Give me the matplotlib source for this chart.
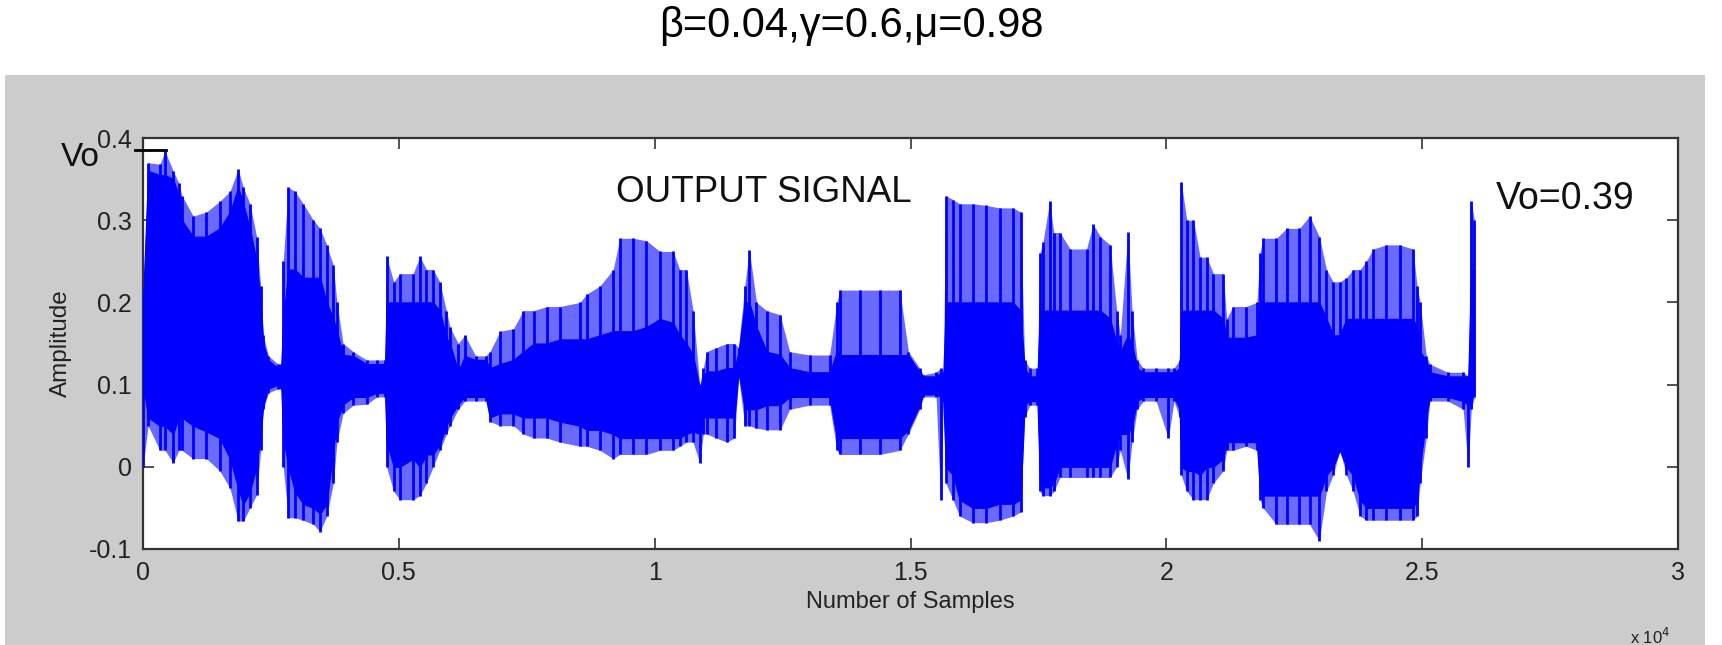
import matplotlib
matplotlib.use("Agg")
import matplotlib.pyplot as plt
from matplotlib.patches import Rectangle

plt.rcParams['font.family'] = ['Liberation Sans', 'DejaVu Sans']

# ---- data (sample index, amplitude) ----
knot_samples = [0, 100, 330, 430, 590, 700, 760, 980, 1240, 1500, 1700, 1860, 1960, 2090, 2220, 2300, 2350,
                2450, 2640, 2700, 2740, 2840, 2970, 3130, 3330, 3460, 3590, 3720, 3790, 3910,
                4110, 4370, 4570, 4730, 4760, 4900, 5022, 5280, 5410, 5540, 5670, 5800, 5930, 6000, 6160,
                6290, 6500, 6700, 6780, 6980, 7240, 7430, 7640, 7890, 8150, 8540, 8670, 8930, 9190, 9320, 9580, 9840,
                10103, 10360, 10490, 10620, 10750, 10880, 10950, 11015, 11200, 11410, 11560, 11640, 11760, 11850, 11990,
                12190, 12450, 12640, 13030, 13420, 13560, 13620, 14010, 14400, 14790, 14960, 15180,
                15250, 15500, 15590, 15640, 15690, 15830, 15960, 16220, 16480, 16740, 17000, 17150, 17230,
                17330, 17480, 17530, 17590, 17720, 17800, 17920, 18120, 18440, 18570, 18710, 18900, 19030, 19100,
                19250, 19330, 19430, 19550, 19800, 20040, 20150, 20260, 20290, 20400, 20530, 20660, 20790, 20920,
                21110, 21180, 21300, 21560, 21770, 21830, 21890, 22150, 22350, 22600, 22800, 22990, 23130, 23260,
                23390, 23520, 23650, 23790, 23910, 24040, 24300, 24560, 24820, 24900, 24960, 25080,
                25150, 25500, 25800, 25900, 25960, 26020]

core_hi = [0.20, 0.36, 0.355, 0.355, 0.35, 0.33, 0.30, 0.28, 0.28, 0.29, 0.31, 0.34, 0.32, 0.29, 0.25, 0.20, 0.15,
           0.13, 0.12, 0.12, 0.18, 0.24, 0.24, 0.23, 0.23, 0.23, 0.20, 0.18, 0.165, 0.136,
           0.135, 0.125, 0.125, 0.125, 0.20, 0.20, 0.20, 0.20, 0.20, 0.20, 0.20, 0.19, 0.157, 0.15, 0.116,
           0.135, 0.13, 0.13, 0.12, 0.125, 0.13, 0.14, 0.15, 0.15, 0.155, 0.155, 0.155, 0.16, 0.165, 0.165, 0.165, 0.17,
           0.18, 0.175, 0.16, 0.15, 0.136, 0.096, 0.11, 0.116, 0.116, 0.12, 0.12, 0.14, 0.20, 0.20, 0.17,
           0.14, 0.136, 0.12, 0.115, 0.115, 0.14, 0.136, 0.136, 0.136, 0.136, 0.136, 0.115,
           0.11, 0.11, 0.115, 0.11, 0.20, 0.20, 0.20, 0.20, 0.20, 0.20, 0.20, 0.19, 0.12,
           0.11, 0.11, 0.19, 0.19, 0.19, 0.19, 0.19, 0.19, 0.19, 0.19, 0.19, 0.18, 0.15, 0.14,
           0.16, 0.15, 0.12, 0.115, 0.115, 0.115, 0.115, 0.12, 0.19, 0.19, 0.19, 0.19, 0.19, 0.19,
           0.18, 0.157, 0.157, 0.157, 0.16, 0.20, 0.20, 0.20, 0.20, 0.20, 0.20, 0.20, 0.18, 0.16,
           0.16, 0.18, 0.18, 0.18, 0.18, 0.18, 0.18, 0.18, 0.18, 0.17, 0.14, 0.13,
           0.115, 0.11, 0.11, 0.11, 0.24, 0.24]

core_lo = [0.10, 0.06, 0.05, 0.05, 0.04, 0.06, 0.06, 0.05, 0.043, 0.035, 0.01, -0.026, -0.046, -0.03, 0.0, 0.04, 0.075,
           0.095, 0.10, 0.10, 0.035, 0.0, -0.03, -0.045, -0.05, -0.057, -0.045, 0.02, 0.055, 0.076,
           0.085, 0.085, 0.09, 0.09, 0.03, 0.0, 0.0, 0.01, 0.0, 0.015, 0.015, 0.027, 0.05, 0.06, 0.076,
           0.085, 0.085, 0.085, 0.06, 0.065, 0.065, 0.06, 0.06, 0.06, 0.055, 0.05, 0.045, 0.045, 0.04, 0.035, 0.035, 0.035,
           0.035, 0.035, 0.035, 0.04, 0.043, 0.04, 0.06, 0.06, 0.06, 0.06, 0.06, 0.115, 0.07, 0.07, 0.07,
           0.075, 0.075, 0.085, 0.085, 0.085, 0.035, 0.035, 0.035, 0.035, 0.035, 0.045, 0.075,
           0.088, 0.088, 0.085, 0.085, 0.0, -0.01, -0.04, -0.05, -0.05, -0.045, -0.045, -0.04, 0.075,
           0.08, 0.08, -0.02, -0.025, -0.025, -0.02, 0.0, 0.0, 0.0, 0.0, 0.0, 0.0, 0.03, 0.04,
           0.04, 0.05, 0.08, 0.085, 0.085, 0.085, 0.085, 0.07, 0.0, -0.005, -0.005, -0.01, 0.0, 0.0,
           0.01, 0.03, 0.03, 0.03, 0.03, -0.03, -0.035, -0.035, -0.035, -0.035, -0.035, -0.035, -0.01, 0.0,
           0.02, 0.0, -0.01, -0.04, -0.05, -0.05, -0.05, -0.05, -0.05, -0.04, 0.0, 0.06,
           0.085, 0.085, 0.08, 0.075, 0.08, 0.09]

peak_hi = [0.21, 0.37, 0.368, 0.384, 0.36, 0.345, 0.33, 0.305, 0.31, 0.323, 0.335, 0.362, 0.34, 0.32, 0.28, 0.22, 0.16,
           0.135, 0.125, 0.125, 0.25, 0.34, 0.335, 0.32, 0.30, 0.29, 0.27, 0.245, 0.20, 0.15,
           0.14, 0.13, 0.13, 0.13, 0.256, 0.225, 0.235, 0.235, 0.256, 0.24, 0.24, 0.225, 0.19, 0.17, 0.15,
           0.16, 0.135, 0.135, 0.14, 0.165, 0.168, 0.19, 0.19, 0.195, 0.195, 0.20, 0.21, 0.22, 0.24, 0.278, 0.278, 0.275,
           0.262, 0.262, 0.24, 0.24, 0.19, 0.10, 0.12, 0.14, 0.145, 0.15, 0.15, 0.145, 0.22, 0.264, 0.20,
           0.19, 0.185, 0.14, 0.136, 0.136, 0.20, 0.215, 0.215, 0.215, 0.215, 0.14, 0.12,
           0.112, 0.115, 0.12, 0.115, 0.33, 0.325, 0.32, 0.32, 0.318, 0.315, 0.315, 0.31, 0.13,
           0.12, 0.12, 0.26, 0.274, 0.323, 0.285, 0.285, 0.265, 0.265, 0.295, 0.28, 0.27, 0.19, 0.16,
           0.286, 0.19, 0.13, 0.12, 0.12, 0.12, 0.12, 0.13, 0.347, 0.30, 0.30, 0.255, 0.255, 0.235,
           0.235, 0.18, 0.195, 0.195, 0.20, 0.26, 0.278, 0.278, 0.29, 0.29, 0.305, 0.28, 0.24, 0.225,
           0.225, 0.23, 0.24, 0.24, 0.25, 0.265, 0.27, 0.27, 0.265, 0.22, 0.20, 0.135,
           0.125, 0.115, 0.115, 0.11, 0.323, 0.30]

peak_lo = [0.0, 0.05, 0.02, 0.02, 0.005, 0.02, 0.02, 0.01, 0.01, -0.005, -0.026, -0.066, -0.066, -0.05, -0.034, 0.02, 0.07,
           0.09, 0.095, 0.095, 0.0, -0.062, -0.062, -0.065, -0.07, -0.079, -0.06, -0.02, 0.03, 0.065,
           0.075, 0.076, 0.085, 0.085, 0.0, -0.03, -0.04, -0.04, -0.035, -0.02, 0.0, 0.02, 0.04, 0.05, 0.07,
           0.08, 0.08, 0.08, 0.055, 0.05, 0.05, 0.04, 0.035, 0.035, 0.03, 0.025, 0.025, 0.02, 0.01, 0.015, 0.015, 0.015,
           0.02, 0.02, 0.025, 0.03, 0.03, 0.005, 0.04, 0.04, 0.035, 0.03, 0.035, 0.11, 0.05, 0.05, 0.047,
           0.045, 0.045, 0.07, 0.075, 0.075, 0.02, 0.015, 0.015, 0.015, 0.02, 0.04, 0.07,
           0.085, 0.085, -0.04, 0.08, -0.02, -0.04, -0.06, -0.068, -0.068, -0.065, -0.06, -0.055, 0.06,
           0.075, 0.075, -0.03, -0.035, -0.035, -0.03, -0.013, -0.013, -0.013, -0.013, -0.013, -0.013, 0.0, 0.02,
           -0.015, 0.03, 0.07, 0.08, 0.08, 0.035, 0.08, 0.06, -0.01, -0.03, -0.04, -0.04, -0.04, -0.02,
           -0.005, 0.02, 0.02, 0.025, 0.02, -0.04, -0.05, -0.07, -0.07, -0.07, -0.07, -0.09, -0.03, -0.01,
           0.02, -0.01, -0.03, -0.06, -0.065, -0.065, -0.065, -0.065, -0.065, -0.06, -0.02, 0.035,
           0.08, 0.08, 0.07, 0.0, 0.07, 0.085]

x_ticks = [0, 5000, 10000, 15000, 20000, 25000, 30000]
x_tick_labels = ['0', '0.5', '1', '1.5', '2', '2.5', '3']
y_ticks = [-0.1, 0.0, 0.1, 0.2, 0.3, 0.4]
y_tick_labels = ['-0.1', '0', '0.1', '0.2', '0.3', '0.4']
vo_level = 0.386

# ---- figure ----
W, H = 1722, 645
fig = plt.figure(figsize=(W / 100, H / 100), dpi=100, facecolor='white')
fig.patches.append(Rectangle((5 / W, 0.0), 1700 / W, (645 - 75) / H, transform=fig.transFigure,
                             facecolor='#cccccc', edgecolor='none', zorder=-10))

ax = fig.add_axes([143 / W, (645 - 549) / H, (1678 - 143) / W, (549 - 138) / H])
ax.set_facecolor('white')

blue = '#0000ff'
ax.fill_between(knot_samples, peak_lo, peak_hi, color='#6a6aff', linewidth=0, zorder=2)
ax.vlines(knot_samples, peak_lo, peak_hi, colors=blue, linewidth=2.0, zorder=3)
ax.fill_between(knot_samples, core_lo, core_hi, color=blue, linewidth=0.8, edgecolor=blue, zorder=4)

ax.plot([-160, 450], [vo_level, vo_level], color='black', linewidth=2, clip_on=False, zorder=6)

ax.set_xlim(0, 30000)
ax.set_ylim(-0.1, 0.4)
ax.set_xticks(x_ticks)
ax.set_xticklabels(x_tick_labels)
ax.set_yticks(y_ticks)
ax.set_yticklabels(y_tick_labels)
ax.tick_params(direction='in', length=8, width=1.2, color='#333333', labelsize=18,
               top=True, right=True, labelcolor='#222222')
ax.tick_params(axis='x', pad=9)
ax.tick_params(axis='y', pad=8)
for s in ax.spines.values():
    s.set_color('#333333')
    s.set_linewidth(1.6)

ax.set_xlabel('Number of Samples', fontsize=17, color='#222222', labelpad=4)
ax.set_ylabel('Amplitude', fontsize=17.5, color='#222222', labelpad=12)

ax.text(12140, 0.334, 'OUTPUT SIGNAL', fontsize=26.5, ha='center', va='center', color='#111111')
ax.text(27790, 0.326, 'Vo=0.39', fontsize=27, ha='center', va='center', color='#111111')
ax.text(-1230, 0.376, 'Vo', fontsize=24, ha='center', va='center', color='#111111', clip_on=False)
ax.text(0.995, -0.214, r'x 10$^{4}$', transform=ax.transAxes, fontsize=12, ha='right', va='center',
        color='#222222')

fig.text(851 / W, 1 - 26 / H, 'β=0.04,γ=0.6,μ=0.98', fontsize=30, ha='center', va='center', color='black')

fig.savefig('out.png', dpi=100, facecolor='white')
